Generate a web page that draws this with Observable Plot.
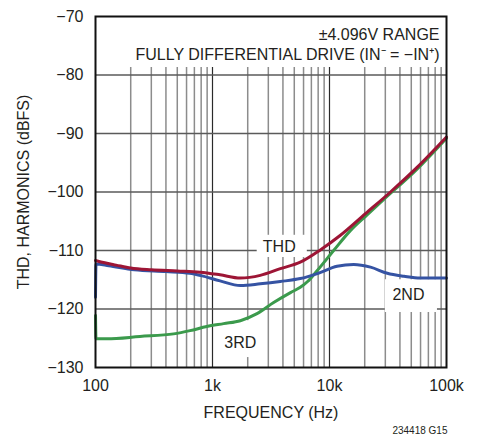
<!DOCTYPE html>
<html><head><meta charset="utf-8">
<script src="https://cdn.jsdelivr.net/npm/d3@7"></script>
<script src="https://cdn.jsdelivr.net/npm/@observablehq/plot@0.6"></script>
<style>
body{margin:0;background:#fff;}
#chart svg{display:block;}
</style></head><body><div id="chart"></div>
<script>
// ---- data ----
const thdFreq = [100,120,150,200,300,500,785,1160,1730,2560,3800,5630,8350,12400,20300,33200,56000,100000];
const thdDb   = [-111.7,-112.1,-112.5,-113.0,-113.3,-113.5,-113.7,-114.15,-114.7,-114.25,-113.1,-112.0,-109.9,-107.4,-103.7,-100.0,-95.8,-90.6];

const h2Freq = [100,101,130,215,400,640,800,1160,1730,2560,3800,5630,8000,11600,16100,22400,31200,43400,59700,100000];
const h2Db   = [-118.0,-112.3,-112.6,-113.3,-113.6,-113.9,-114.3,-115.2,-116.0,-115.7,-115.3,-114.8,-113.9,-112.7,-112.4,-112.85,-113.9,-114.4,-114.7,-114.7];

const h3Freq = [100,101,125,240,465,643,894,1245,1730,2400,3330,4640,5630,6500,7800,10850,15070,20950,29000,56000,100000];
const h3Db   = [-121.1,-125.1,-125.1,-124.7,-124.25,-123.7,-123.0,-122.5,-122.0,-120.8,-118.9,-117.2,-116.3,-115.3,-113.5,-110.0,-106.6,-103.9,-101.3,-96.1,-90.8];

const xTicks = [100,1000,10000,100000];
const xTickLabels = ["100","1k","10k","100k"];
const yTicks = [-130,-120,-110,-100,-90,-80,-70];
const yGrid = [-120,-110,-100,-90,-80];
const minorFreqs = [200,300,400,500,600,700,800,900,2000,3000,4000,5000,6000,7000,8000,9000,20000,30000,40000,50000,60000,70000,80000,90000];
const majorFreqs = [1000,10000];

const titleLines = ["±4.096V RANGE","FULLY DIFFERENTIAL DRIVE (IN⁻ = −IN⁺)"];
const xTitle = "FREQUENCY (Hz)";
const yTitle = "THD, HARMONICS (dBFS)";
const caption = "234418 G15";

// in-plot labels: text anchor (freq, dB) and white box extent (freq, dB)
const labelText = ["THD","2ND","3RD"];
const labelFreq = [3720,47300,1726];
const labelDb   = [-109.3,-117.6,-125.8];
const boxF1 = [2410,30000,1054];
const boxF2 = [6460,83700,2660];
const boxDb1 = [-107.4,-115.0,-122.0];
const boxDb2 = [-111.2,-120.6,-128.3];

// ---- build ----
const FONT = "'Liberation Sans',Arial,Helvetica,sans-serif";
const FS = 16;
const toRows = (fs, ds) => fs.map((f, i) => ({f, db: ds[i]}));
const thd = toRows(thdFreq, thdDb);
const h2 = toRows(h2Freq, h2Db);
const h3 = toRows(h3Freq, h3Db);
const labels = labelText.map((t, i) => ({t, f: labelFreq[i], db: labelDb[i], f1: boxF1[i], f2: boxF2[i], d1: boxDb1[i], d2: boxDb2[i]}));
const TEXT = "#231f20";

const chart = Plot.plot({
  width: 482, height: 438,
  marginLeft: 95, marginRight: 36, marginTop: 16, marginBottom: 71,
  style: {fontFamily: FONT, fontSize: FS + "px", color: TEXT, background: "#fff"},
  x: {type: "log", domain: [100, 100000]},
  y: {domain: [-130, -70]},
  marks: [
    Plot.ruleX(minorFreqs, {y1: -130, y2: -78.7, stroke: "#8c8c8c", strokeWidth: 1.5}),
    Plot.ruleX(majorFreqs, {y1: -130, y2: -78.7, stroke: "#2a2a2a", strokeWidth: 1.2}),
    Plot.ruleY(yGrid, {stroke: "#5a5a5a", strokeWidth: 1.3}),
    Plot.rect(labels, {x1: "f1", x2: "f2", y1: "d1", y2: "d2", fill: "white"}),
    Plot.line(h3, {x: "f", y: "db", stroke: "#3b9a4c", strokeWidth: 3, curve: "monotone-x"}),
    Plot.line(h2, {x: "f", y: "db", stroke: "#3553a3", strokeWidth: 3, curve: "monotone-x"}),
    Plot.line(thd, {x: "f", y: "db", stroke: "#9d1535", strokeWidth: 3, curve: "monotone-x"}),
    Plot.text(labels, {x: "f", y: "db", text: "t", fontSize: FS, fill: TEXT, textAnchor: "middle", lineAnchor: "middle"}),
    Plot.frame({stroke: "#111", strokeWidth: 2}),
    Plot.axisX({ticks: xTicks, tickFormat: d => xTickLabels[xTicks.indexOf(d)], tickSize: 0, tickPadding: 12, label: null, fontSize: FS}),
    Plot.axisY({ticks: yTicks, tickSize: 0, tickPadding: 12, label: null, fontSize: FS}),
    Plot.text([titleLines.join("\n")], {frameAnchor: "top-right", textAnchor: "end", lineAnchor: "bottom", dx: -7, dy: 43.3, lineHeight: 1.25, fontSize: FS, fill: TEXT}),
    Plot.text([xTitle], {frameAnchor: "bottom", lineAnchor: "bottom", dy: 50, fontSize: FS, fill: TEXT}),
    Plot.text([yTitle], {frameAnchor: "left", rotate: -90, textAnchor: "middle", lineAnchor: "middle", dx: -72, fontSize: FS, fill: TEXT}),
    Plot.text([caption], {frameAnchor: "bottom-right", textAnchor: "end", lineAnchor: "middle", dx: 1, dy: 63, fontSize: 10, fill: TEXT})
  ]
});
document.getElementById("chart").appendChild(chart);
</script>
</body></html>
